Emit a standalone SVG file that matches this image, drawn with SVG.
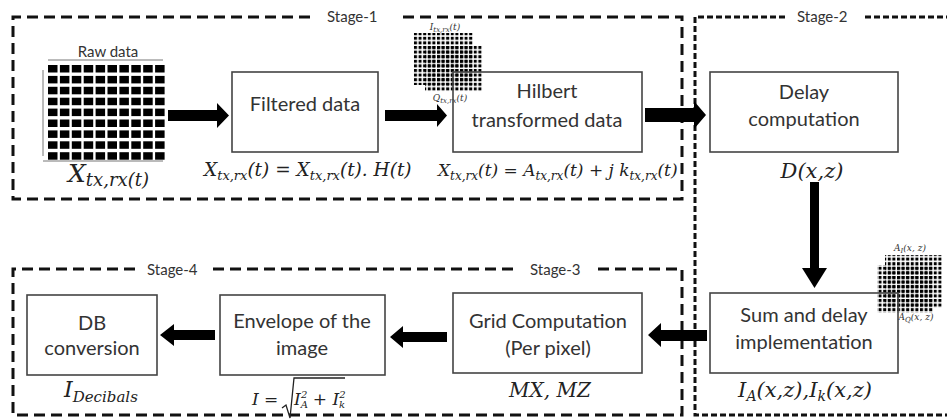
<svg xmlns="http://www.w3.org/2000/svg" width="947" height="419" viewBox="0 0 947 419">
<defs>
<pattern id="dots" patternUnits="userSpaceOnUse" width="4.6" height="4.6">
<rect x="0" y="0" width="3" height="3" fill="#000"/>
</pattern>
<style>
.stage{fill:none;stroke:#111;stroke-width:3;stroke-dasharray:11 6}
.stage2{fill:none;stroke:#111;stroke-width:3;stroke-dasharray:6 3}
.box{fill:none;stroke:#444;stroke-width:1.6}
.lbl{font-family:Lato,"Liberation Sans",sans-serif;font-size:20px;fill:#333;text-anchor:middle}
.stl{font-family:Lato,"Liberation Sans",sans-serif;font-size:15px;fill:#333}
.math{font-family:"DejaVu Serif","Liberation Serif",serif;font-style:italic;font-size:19px;fill:#222}
.sm{font-family:"DejaVu Serif","Liberation Serif",serif;font-style:italic;font-size:9px;fill:#333;text-anchor:middle}
.arr{fill:#000}
.ax{stroke:#777;stroke-width:1;fill:none}
</style>
</defs>
<rect width="947" height="419" fill="#fff"/>

<g id="stages">
<path class="stage" d="M310,17 H13 V199 H682 V17 H397"/>
<text class="stl" x="327" y="22">Stage-1</text>
<path class="stage2" d="M785,17 H695 V415 H947 M865,17 H947"/>
<text class="stl" x="797" y="22">Stage-2</text>
<path class="stage" d="M135,269 H13 V415 H682 V269 H598 M213,269 H517"/>
<text class="stl" x="147" y="275">Stage-4</text>
<text class="stl" x="530" y="275">Stage-3</text>
</g>

<g id="raw-data">
<text class="lbl" x="108" y="57" style="font-size:15px">Raw data</text>
<path class="ax" d="M48,60 H163 M43,70 V156 M43,161 H163"/>
<g fill="#000">
<rect x="48" y="65" width="9.5" height="7.5"/><rect x="59.9" y="65" width="9.5" height="7.5"/><rect x="71.8" y="65" width="9.5" height="7.5"/><rect x="83.7" y="65" width="9.5" height="7.5"/><rect x="95.6" y="65" width="9.5" height="7.5"/><rect x="107.5" y="65" width="9.5" height="7.5"/><rect x="119.4" y="65" width="9.5" height="7.5"/><rect x="131.3" y="65" width="9.5" height="7.5"/><rect x="143.2" y="65" width="9.5" height="7.5"/><rect x="155.1" y="65" width="9.5" height="7.5"/>
<rect x="48" y="75.9" width="9.5" height="7.5"/><rect x="59.9" y="75.9" width="9.5" height="7.5"/><rect x="71.8" y="75.9" width="9.5" height="7.5"/><rect x="83.7" y="75.9" width="9.5" height="7.5"/><rect x="95.6" y="75.9" width="9.5" height="7.5"/><rect x="107.5" y="75.9" width="9.5" height="7.5"/><rect x="119.4" y="75.9" width="9.5" height="7.5"/><rect x="131.3" y="75.9" width="9.5" height="7.5"/><rect x="143.2" y="75.9" width="9.5" height="7.5"/><rect x="155.1" y="75.9" width="9.5" height="7.5"/>
<rect x="48" y="86.8" width="9.5" height="7.5"/><rect x="59.9" y="86.8" width="9.5" height="7.5"/><rect x="71.8" y="86.8" width="9.5" height="7.5"/><rect x="83.7" y="86.8" width="9.5" height="7.5"/><rect x="95.6" y="86.8" width="9.5" height="7.5"/><rect x="107.5" y="86.8" width="9.5" height="7.5"/><rect x="119.4" y="86.8" width="9.5" height="7.5"/><rect x="131.3" y="86.8" width="9.5" height="7.5"/><rect x="143.2" y="86.8" width="9.5" height="7.5"/><rect x="155.1" y="86.8" width="9.5" height="7.5"/>
<rect x="48" y="97.7" width="9.5" height="7.5"/><rect x="59.9" y="97.7" width="9.5" height="7.5"/><rect x="71.8" y="97.7" width="9.5" height="7.5"/><rect x="83.7" y="97.7" width="9.5" height="7.5"/><rect x="95.6" y="97.7" width="9.5" height="7.5"/><rect x="107.5" y="97.7" width="9.5" height="7.5"/><rect x="119.4" y="97.7" width="9.5" height="7.5"/><rect x="131.3" y="97.7" width="9.5" height="7.5"/><rect x="143.2" y="97.7" width="9.5" height="7.5"/><rect x="155.1" y="97.7" width="9.5" height="7.5"/>
<rect x="48" y="108.6" width="9.5" height="7.5"/><rect x="59.9" y="108.6" width="9.5" height="7.5"/><rect x="71.8" y="108.6" width="9.5" height="7.5"/><rect x="83.7" y="108.6" width="9.5" height="7.5"/><rect x="95.6" y="108.6" width="9.5" height="7.5"/><rect x="107.5" y="108.6" width="9.5" height="7.5"/><rect x="119.4" y="108.6" width="9.5" height="7.5"/><rect x="131.3" y="108.6" width="9.5" height="7.5"/><rect x="143.2" y="108.6" width="9.5" height="7.5"/><rect x="155.1" y="108.6" width="9.5" height="7.5"/>
<rect x="48" y="119.5" width="9.5" height="7.5"/><rect x="59.9" y="119.5" width="9.5" height="7.5"/><rect x="71.8" y="119.5" width="9.5" height="7.5"/><rect x="83.7" y="119.5" width="9.5" height="7.5"/><rect x="95.6" y="119.5" width="9.5" height="7.5"/><rect x="107.5" y="119.5" width="9.5" height="7.5"/><rect x="119.4" y="119.5" width="9.5" height="7.5"/><rect x="131.3" y="119.5" width="9.5" height="7.5"/><rect x="143.2" y="119.5" width="9.5" height="7.5"/><rect x="155.1" y="119.5" width="9.5" height="7.5"/>
<rect x="48" y="130.4" width="9.5" height="7.5"/><rect x="59.9" y="130.4" width="9.5" height="7.5"/><rect x="71.8" y="130.4" width="9.5" height="7.5"/><rect x="83.7" y="130.4" width="9.5" height="7.5"/><rect x="95.6" y="130.4" width="9.5" height="7.5"/><rect x="107.5" y="130.4" width="9.5" height="7.5"/><rect x="119.4" y="130.4" width="9.5" height="7.5"/><rect x="131.3" y="130.4" width="9.5" height="7.5"/><rect x="143.2" y="130.4" width="9.5" height="7.5"/><rect x="155.1" y="130.4" width="9.5" height="7.5"/>
<rect x="48" y="141.3" width="9.5" height="7.5"/><rect x="59.9" y="141.3" width="9.5" height="7.5"/><rect x="71.8" y="141.3" width="9.5" height="7.5"/><rect x="83.7" y="141.3" width="9.5" height="7.5"/><rect x="95.6" y="141.3" width="9.5" height="7.5"/><rect x="107.5" y="141.3" width="9.5" height="7.5"/><rect x="119.4" y="141.3" width="9.5" height="7.5"/><rect x="131.3" y="141.3" width="9.5" height="7.5"/><rect x="143.2" y="141.3" width="9.5" height="7.5"/><rect x="155.1" y="141.3" width="9.5" height="7.5"/>
<rect x="48" y="152.2" width="9.5" height="7.5"/><rect x="59.9" y="152.2" width="9.5" height="7.5"/><rect x="71.8" y="152.2" width="9.5" height="7.5"/><rect x="83.7" y="152.2" width="9.5" height="7.5"/><rect x="95.6" y="152.2" width="9.5" height="7.5"/><rect x="107.5" y="152.2" width="9.5" height="7.5"/><rect x="119.4" y="152.2" width="9.5" height="7.5"/><rect x="131.3" y="152.2" width="9.5" height="7.5"/><rect x="143.2" y="152.2" width="9.5" height="7.5"/><rect x="155.1" y="152.2" width="9.5" height="7.5"/>
</g>
<text class="math" x="68" y="182" style="font-size:25px">X<tspan dy="4" style="font-size:18px">tx,rx(t)</tspan></text>
</g>

<g id="filtered-data">
<rect class="box" x="232" y="72" width="146" height="80"/>
<text class="lbl" x="305" y="111">Filtered data</text>
<text class="math" x="204" y="176" style="font-size:18.5px">X<tspan dy="4" font-size="13">tx,rx</tspan><tspan dy="-4">(t) = X</tspan><tspan dy="4" font-size="13">tx,rx</tspan><tspan dy="-4">(t). H(t)</tspan></text>
</g>

<g id="hilbert">
<rect x="413" y="33" width="60" height="52" fill="url(#dots)"/>
<rect x="425" y="45" width="58" height="47" fill="url(#dots)"/>
<text class="sm" x="445" y="30">I<tspan dy="2" font-size="7">tx,rx</tspan><tspan dy="-2">(t)</tspan></text>
<text class="sm" x="450" y="101">Q<tspan dy="2" font-size="7">tx,rx</tspan><tspan dy="-2">(t)</tspan></text>
<rect class="box" x="453" y="72" width="189" height="80"/>
<text class="lbl" x="547" y="98">Hilbert</text>
<text class="lbl" x="547" y="127">transformed data</text>
<text class="math" x="438" y="176" style="font-size:17px">X<tspan dy="4" font-size="12">tx,rx</tspan><tspan dy="-4">(t) = A</tspan><tspan dy="4" font-size="12">tx,rx</tspan><tspan dy="-4">(t) + j k</tspan><tspan dy="4" font-size="12">tx,rx</tspan><tspan dy="-4">(t)</tspan></text>
</g>

<g id="delay-computation">
<rect class="box" x="710" y="72" width="188" height="80"/>
<text class="lbl" x="804" y="99">Delay</text>
<text class="lbl" x="804" y="126">computation</text>
<text class="math" x="812" y="178" text-anchor="middle" style="font-size:21px">D(x,z)</text>
</g>

<g id="sum-and-delay">
<rect x="885" y="255" width="57" height="53" fill="url(#dots)"/>
<rect x="877" y="265" width="56" height="48" fill="url(#dots)"/>
<text class="sm" x="910" y="251">A<tspan dy="2" font-size="7">I</tspan><tspan dy="-2">(x, z)</tspan></text>
<text class="sm" x="916" y="320">A<tspan dy="2" font-size="7">Q</tspan><tspan dy="-2">(x, z)</tspan></text>
<rect class="box" x="710" y="293" width="188" height="80"/>
<text class="lbl" x="804" y="322">Sum and delay</text>
<text class="lbl" x="804" y="349">implementation</text>
<text class="math" x="805" y="397" text-anchor="middle" style="font-size:21px">I<tspan dy="4" font-size="14">A</tspan><tspan dy="-4">(x,z),I</tspan><tspan dy="4" font-size="14">k</tspan><tspan dy="-4">(x,z)</tspan></text>
</g>

<g id="grid-computation">
<rect class="box" x="453" y="293" width="189" height="80"/>
<text class="lbl" x="548" y="328">Grid Computation</text>
<text class="lbl" x="548" y="355">(Per pixel)</text>
<text class="math" x="550" y="397" text-anchor="middle" style="font-size:20px">MX, MZ</text>
</g>

<g id="envelope">
<rect class="box" x="220" y="295" width="165" height="80"/>
<text class="lbl" x="302" y="328">Envelope of the</text>
<text class="lbl" x="302" y="355">image</text>
<text class="math" x="252" y="405" style="font-size:17px">I =</text>
<path d="M282,408 L286,405 L290,418 L294,378 H345" fill="none" stroke="#222" stroke-width="1.3"/>
<text class="math" x="294" y="405" style="font-size:17px">I<tspan dy="3" font-size="10">A</tspan><tspan dx="-7" dy="-10" font-size="10">2</tspan><tspan dy="7"> + I</tspan><tspan dy="3" font-size="10">k</tspan><tspan dx="-6" dy="-10" font-size="10">2</tspan></text>
</g>

<g id="db-conversion">
<rect class="box" x="27" y="295" width="130" height="80"/>
<text class="lbl" x="92" y="330">DB</text>
<text class="lbl" x="92" y="355">conversion</text>
<text class="math" x="64" y="397" style="font-size:22px">I<tspan dy="5" font-size="15">Decibals</tspan></text>
</g>

<g id="connectors">
<polygon class="arr" points="168,110 217,110 217,103 229,115.5 217,128 217,121 168,121"/>
<polygon class="arr" points="385,110 437,110 437,104 447,115.5 437,127 437,121 385,121"/>
<polygon class="arr" points="645,108 694,108 694,101 706,115 694,129 694,122 645,122"/>
<polygon class="arr" points="810,182 819,182 819,268 827,268 814.5,288 802,268 810,268"/>
<polygon class="arr" points="707,330 661,330 661,323 648,335 661,347 661,341 707,341"/>
<polygon class="arr" points="447,332 403,332 403,326 390,337 403,348 403,342 447,342"/>
<polygon class="arr" points="215,330 174,330 174,324 160,335 174,346 174,340 215,340"/>
</g>
</svg>
